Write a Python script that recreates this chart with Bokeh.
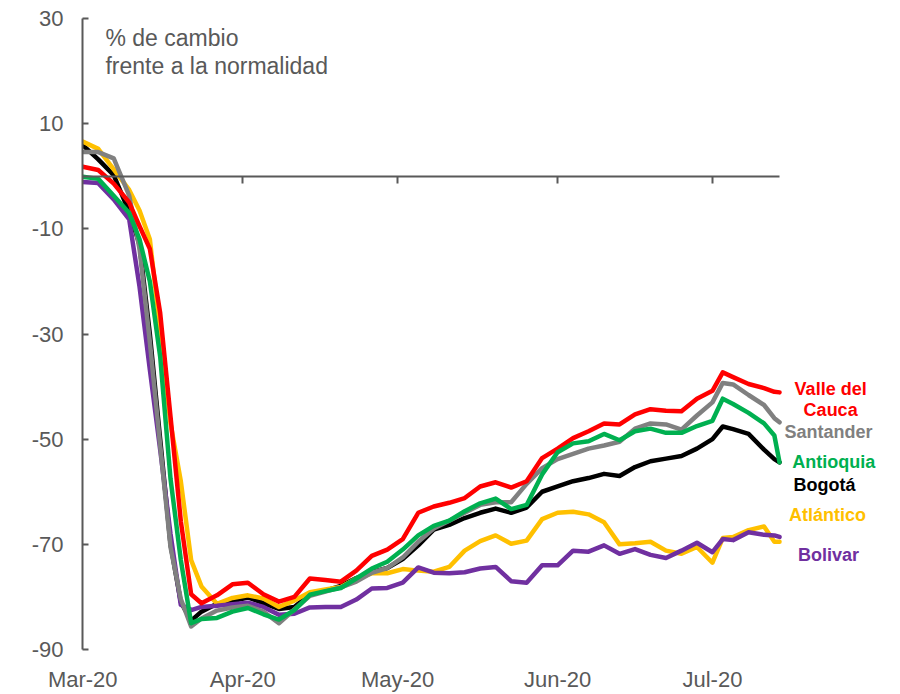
import datetime as dt
from bokeh.plotting import figure
from bokeh.models import (Range1d, DatetimeAxis, DatetimeTickFormatter, FixedTicker,
                          PrintfTickFormatter, Label)
from bokeh.embed import file_html
from bokeh.resources import INLINE

# ---------------- data ----------------
dates = ["2020-03-01", "2020-03-04", "2020-03-07", "2020-03-10", "2020-03-12", "2020-03-14",
         "2020-03-16", "2020-03-18", "2020-03-20", "2020-03-22", "2020-03-24", "2020-03-27",
         "2020-03-30", "2020-04-02", "2020-04-05", "2020-04-08", "2020-04-11", "2020-04-14",
         "2020-04-17", "2020-04-20", "2020-04-23", "2020-04-26", "2020-04-29", "2020-05-02",
         "2020-05-05", "2020-05-08", "2020-05-11", "2020-05-14", "2020-05-17", "2020-05-20",
         "2020-05-23", "2020-05-26", "2020-05-29", "2020-06-01", "2020-06-04", "2020-06-07",
         "2020-06-10", "2020-06-13", "2020-06-16", "2020-06-19", "2020-06-22", "2020-06-25",
         "2020-06-28", "2020-07-01", "2020-07-03", "2020-07-05", "2020-07-08", "2020-07-11",
         "2020-07-13", "2020-07-14"]

valle = [1.8, 1.2, -1.4, -5.0, -9.5, -13.8, -26.0, -45.7, -65.6, -79.5, -81.2, -79.7, -77.6,
         -77.3, -79.5, -80.9, -80.0, -76.5, -76.8, -77.1, -75.0, -72.2, -71.0, -69.0, -64.0,
         -62.8, -62.1, -61.2, -59.0, -58.2, -59.2, -58.0, -53.6, -51.8, -49.8, -48.5, -47.0,
         -47.2, -45.3, -44.3, -44.6, -44.7, -42.3, -40.8, -37.3, -38.2, -39.5, -40.3, -41.0, -41.1]

santander = [4.6, 4.6, 3.4, -3.7, -13.8, -31.5, -51.2, -70.5, -80.4, -85.6, -84.1, -82.6, -82.0,
             -81.7, -82.8, -85.0, -82.4, -79.8, -79.0, -78.2, -77.1, -75.4, -74.5, -72.5, -69.5,
             -67.0, -65.5, -64.0, -62.5, -62.0, -62.0, -58.5, -55.5, -53.8, -52.8, -51.8, -51.2,
             -50.5, -48.0, -47.0, -47.2, -48.2, -45.5, -43.0, -39.3, -39.6, -41.6, -43.5, -46.0, -46.8]

antioquia = [-0.1, -0.5, -3.7, -7.0, -12.0, -20.0, -34.3, -57.5, -73.0, -85.0, -84.2, -84.0, -82.8,
             -82.1, -83.3, -84.3, -82.5, -79.6, -78.9, -78.3, -76.5, -74.6, -73.3, -71.0, -68.3,
             -66.5, -65.5, -63.7, -62.2, -61.3, -63.3, -62.5, -56.7, -52.5, -50.8, -50.4, -49.0,
             -50.2, -48.5, -48.0, -48.8, -48.8, -47.5, -46.5, -42.3, -43.3, -45.0, -47.0, -49.3, -54.4]

bogota = [5.9, 3.2, 0.2, -6.8, -13.0, -30.0, -50.0, -70.0, -81.0, -84.5, -82.8, -81.3, -80.8,
          -80.1, -81.2, -82.3, -81.9, -79.5, -78.8, -77.9, -76.4, -75.3, -74.5, -72.8, -70.2,
          -67.2, -66.3, -65.0, -64.0, -63.2, -64.0, -63.0, -60.0, -59.0, -58.0, -57.4, -56.6,
          -57.0, -55.3, -54.2, -53.7, -53.2, -51.8, -50.0, -47.6, -48.1, -49.0, -52.0, -53.8, -54.4]

atlantico = [6.6, 5.2, 1.3, -2.6, -6.5, -12.0, -29.3, -47.0, -58.0, -73.0, -78.0, -81.3, -80.2,
             -79.7, -80.3, -81.9, -80.7, -79.1, -78.6, -78.1, -76.5, -75.5, -75.5, -74.7, -75.0,
             -75.2, -74.3, -71.2, -69.4, -68.3, -69.9, -69.3, -65.2, -64.0, -63.8, -64.3, -65.8,
             -70.0, -69.8, -69.5, -71.2, -71.8, -70.5, -73.5, -68.8, -68.6, -67.3, -66.6, -69.5, -69.5]

bolivar = [-1.1, -1.3, -4.4, -8.2, -21.0, -36.8, -52.0, -68.0, -81.5, -82.5, -81.9, -81.7, -81.4,
           -81.1, -81.9, -83.4, -83.2, -82.0, -81.9, -81.9, -80.5, -78.4, -78.3, -77.3, -74.4,
           -75.4, -75.5, -75.3, -74.6, -74.3, -77.0, -77.3, -74.0, -74.0, -71.2, -71.4, -70.2,
           -71.8, -70.9, -72.0, -72.6, -71.2, -69.7, -71.5, -69.0, -69.2, -67.7, -68.2, -68.3, -68.6]

y_ticks = [-90, -70, -50, -30, -10, 10, 30]
month_ticks = ["2020-03-01", "2020-04-01", "2020-05-01", "2020-06-01", "2020-07-01"]
title_lines = ["% de cambio", "frente a la normalidad"]
region_labels = ["Valle del", "Cauca", "Santander", "Antioquia", "Bogotá", "Atlántico", "Bolivar"]

# ---------------- styling / layout ----------------
AXIS_GREY = "#595959"
FONT = "Liberation Sans"
series = [  # draw order
    (bogota, "#000000"),
    (atlantico, "#FFC000"),
    (bolivar, "#7030A0"),
    (santander, "#808080"),
    (valle, "#FF0000"),
    (antioquia, "#00B050"),
]
label_colors = ["#FF0000", "#FF0000", "#808080", "#00B050", "#000000", "#FFC000", "#7030A0"]
# label positions: (days after 1 Mar, y value)
label_pos = [(144.9, -40.5), (144.9, -44.5), (144.5, -48.6), (145.5, -54.3),
             (143.7, -58.7), (144.3, -64.4), (144.5, -72.1)]
title_pos = [(4.4, 26.3), (4.4, 21.0)]

origin = dt.datetime(2020, 3, 1)
epoch = dt.datetime(1970, 1, 1)


def ms_of(t):
    return (t - epoch).total_seconds() * 1000.0


def ms(day_offset):
    return ms_of(origin + dt.timedelta(days=day_offset))


def parse(d):
    return dt.datetime.strptime(d, "%Y-%m-%d")


x = [parse(d) for d in dates]
month_ms = [ms_of(parse(d)) for d in month_ticks]

p = figure(width=898, height=694, x_axis_type="datetime",
           x_range=Range1d(ms(-0.05), ms(158.05)), y_range=Range1d(-90, 30),
           output_backend="svg", toolbar_location=None,
           min_border_left=82, min_border_right=0, min_border_top=18, min_border_bottom=42)
p.outline_line_color = None
p.xgrid.visible = False
p.ygrid.visible = False
p.background_fill_color = "white"
p.border_fill_color = "white"

# bottom axis: labels only
bx = p.below[0]
bx.ticker = FixedTicker(ticks=month_ms)
bx.formatter = DatetimeTickFormatter(months="%b-%y", days="%b-%y", years="%b-%y",
                                     hours="%b-%y", minutes="%b-%y")
bx.axis_line_color = None
bx.major_tick_line_color = None
bx.minor_tick_line_color = None
bx.major_tick_in = 0
bx.major_tick_out = 0
bx.major_label_standoff = 17
bx.major_label_text_font = FONT
bx.major_label_text_font_size = "22px"
bx.major_label_text_color = AXIS_GREY

# zero-line axis with downward ticks
zx = DatetimeAxis(fixed_location=0, ticker=FixedTicker(ticks=month_ms[1:]),
                  bounds=(x[0], x[-1]))
zx.axis_line_color = AXIS_GREY
zx.axis_line_width = 2
zx.major_tick_line_color = AXIS_GREY
zx.major_tick_line_width = 2
zx.major_tick_in = 0
zx.major_tick_out = 7
zx.minor_tick_line_color = None
zx.major_label_text_font_size = "0px"
zx.major_label_text_alpha = 0
p.add_layout(zx, "below")

# y axis
ya = p.yaxis[0]
ya.ticker = FixedTicker(ticks=y_ticks)
ya.formatter = PrintfTickFormatter(format="%d")
ya.axis_line_color = AXIS_GREY
ya.axis_line_width = 2
ya.major_tick_line_color = AXIS_GREY
ya.major_tick_line_width = 2
ya.major_tick_in = 6
ya.major_tick_out = 0
ya.minor_tick_line_color = None
ya.major_label_standoff = 19
ya.major_label_text_font = FONT
ya.major_label_text_font_size = "22px"
ya.major_label_text_color = AXIS_GREY

for vals, col in series:
    p.line(x, vals, line_color=col, line_width=4.5, line_join="round", line_cap="round")

for txt, (dx, yv) in zip(title_lines, title_pos):
    p.add_layout(Label(x=ms(dx), y=yv, text=txt, text_font=FONT, text_font_size="23px",
                       text_color=AXIS_GREY, text_align="left", text_baseline="middle"))

for txt, col, (dx, yv) in zip(region_labels, label_colors, label_pos):
    p.add_layout(Label(x=ms(dx), y=yv, text=txt, text_font=FONT, text_font_size="18px",
                       text_font_style="bold", text_color=col, text_align="center",
                       text_baseline="middle"))

open("out.html", "w").write(file_html(p, INLINE))
